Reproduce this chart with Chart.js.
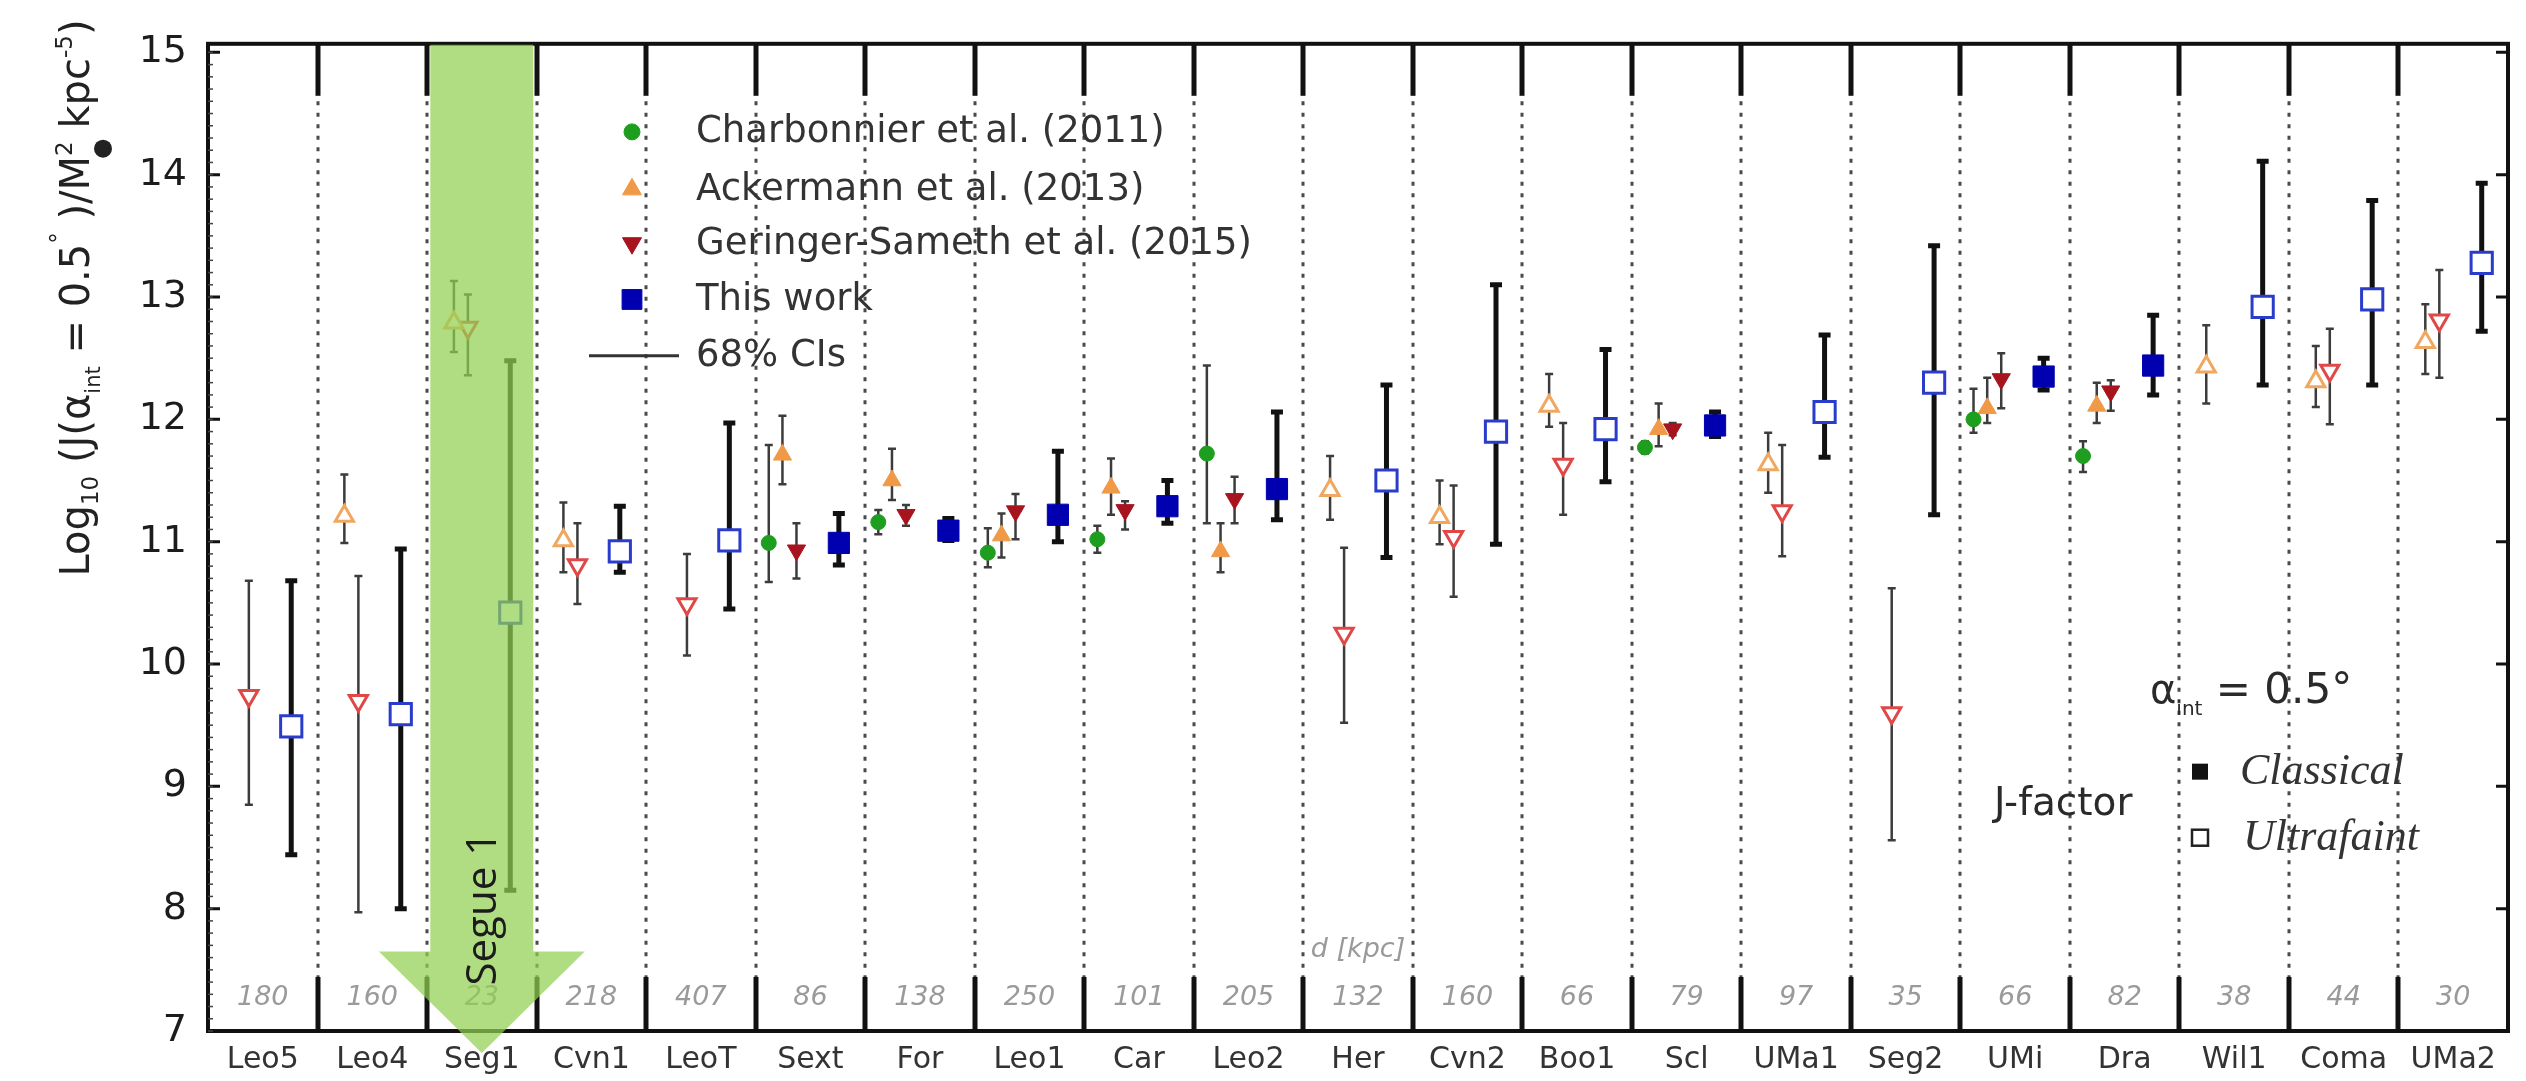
<!DOCTYPE html>
<html>
<head>
<meta charset="utf-8">
<script src="https://cdn.jsdelivr.net/npm/chart.js@4.4.1/dist/chart.umd.min.js"></script>
<style>
  html, body { margin: 0; padding: 0; background: #ffffff; }
  #wrap { width: 2526px; height: 1081px; position: relative; }
</style>
</head>
<body>
<div id="wrap"><canvas id="c"></canvas></div>
<script>
// ---------------- DATA ----------------
const categories = ['Leo5','Leo4','Seg1','Cvn1','LeoT','Sext','For','Leo1','Car','Leo2','Her','Cvn2','Boo1','Scl','UMa1','Seg2','UMi','Dra','Wil1','Coma','UMa2'];
const distances  = [180,160,23,218,407,86,138,250,101,205,132,160,66,79,97,35,66,82,38,44,30];
// 1 = classical (filled markers), 0 = ultrafaint (open markers)
const classical  = [0,0,0,0,0,1,1,1,1,1,0,0,0,1,0,0,1,1,0,0,0];
const yTicks = [7,8,9,10,11,12,13,14,15];

// Charbonnier et al. (2011)
const charbVal = [null,null,null,null,null,10.99,11.16,10.91,11.02,11.72,null,null,null,11.77,null,null,12.00,11.70,null,null,null];
const charbLo  = [null,null,null,null,null,10.67,11.06,10.79,10.91,11.15,null,null,null,11.72,null,null,11.89,11.57,null,null,null];
const charbHi  = [null,null,null,null,null,11.79,11.26,11.11,11.13,12.44,null,null,null,11.82,null,null,12.25,11.82,null,null,null];

// Ackermann et al. (2013)
const ackVal = [null,11.21,12.79,11.01,null,11.71,11.50,11.05,11.44,10.92,11.42,11.20,12.11,11.92,11.63,null,12.09,12.11,12.43,12.31,12.63];
const ackLo  = [null,10.99,12.55,10.75,null,11.47,11.34,10.87,11.22,10.75,11.18,10.98,11.94,11.78,11.40,null,11.97,11.97,12.13,12.10,12.37];
const ackHi  = [null,11.55,13.13,11.32,null,12.03,11.76,11.23,11.68,11.15,11.70,11.50,12.37,12.13,11.89,null,12.34,12.30,12.77,12.60,12.94];

// Geringer-Sameth et al. (2015)
const gsVal = [9.74,9.70,12.75,10.81,10.49,10.93,11.22,11.25,11.26,11.35,10.25,11.04,11.63,11.92,11.25,9.60,12.33,12.23,null,12.40,12.81];
const gsLo  = [8.85,7.97,12.36,10.49,10.07,10.70,11.13,11.02,11.10,11.15,9.52,10.55,11.22,11.87,10.88,8.56,12.09,12.07,null,11.96,12.34];
const gsHi  = [10.68,10.72,13.02,11.15,10.90,11.15,11.30,11.39,11.33,11.53,10.95,11.46,11.97,11.97,11.79,10.62,12.54,12.32,null,12.74,13.22];

// This work
const workVal = [9.49,9.59,10.42,10.92,11.01,10.99,11.09,11.22,11.29,11.43,11.50,11.90,11.92,11.95,12.06,12.30,12.35,12.44,12.92,12.98,13.28];
const workLo  = [8.44,8.00,8.15,10.75,10.45,10.81,11.01,11.00,11.15,11.18,10.87,10.98,11.49,11.86,11.69,11.22,12.24,12.20,12.28,12.28,12.72];
const workHi  = [10.68,10.94,12.48,11.29,11.97,11.23,11.19,11.74,11.50,12.06,12.28,13.10,12.57,12.06,12.69,13.42,12.50,12.85,14.11,13.79,13.93];

const highlightIndex = 2; // Segue 1

// ---------------- STYLES ----------------
const FONT = '"DejaVu Sans", "Liberation Sans", Arial, sans-serif';
const series = [
  { label:'Charbonnier et al. (2011)', val:charbVal, lo:charbLo, hi:charbHi, off:-0.38,
    style:'circle', rot:0, color:'#1e9e1e', hollow:'#1e9e1e', r:7.5, bar:'#3c3c3c', bw:2.5, cap:8 },
  { label:'Ackermann et al. (2013)', val:ackVal, lo:ackLo, hi:ackHi, off:-0.255,
    style:'triangle', rot:0, color:'#f09a48', hollow:'#f0a860', r:10.5, bar:'#3c3c3c', bw:2.5, cap:8 },
  { label:'Geringer-Sameth et al. (2015)', val:gsVal, lo:gsLo, hi:gsHi, off:-0.127,
    style:'triangle', rot:180, color:'#a8141e', hollow:'#e04848', r:10.5, bar:'#3c3c3c', bw:2.5, cap:8 },
  { label:'This work', val:workVal, lo:workLo, hi:workHi, off:0.26,
    style:'rect', rot:0, color:'#0000b0', hollow:'#2a3ccc', r:15, bar:'#111111', bw:5, cap:12 }
];

const datasets = series.map(s => {
  const idx = s.val.map((v,i)=> v==null ? -1 : i).filter(i => i >= 0);
  return {
    label: s.label,
    data: idx.map(i => ({ x: i + s.off, y: s.val[i] })),
    pointStyle: s.style,
    rotation: s.rot,
    pointRadius: s.r,
    pointBackgroundColor: idx.map(i => classical[i] ? s.color : '#ffffff'),
    pointBorderColor: idx.map(i => classical[i] ? s.color : s.hollow),
    pointBorderWidth: idx.map(i => classical[i] ? 1 : 3),
    showLine: false
  };
});

// ---------------- PLUGIN ----------------
function drawRich(ctx, pieces, x, y) {
  let cx = x;
  pieces.forEach(p => {
    ctx.font = (p.italic ? 'italic ' : '') + p.s + 'px ' + (p.f || FONT);
    const w = ctx.measureText(p.t).width;
    ctx.fillText(p.t, cx, y + (p.dy || 0));
    if (p.sun) {
      ctx.beginPath();
      ctx.arc(cx + w/2, y + p.sun, 9, 0, Math.PI*2);
      ctx.fill();
    }
    cx += w;
  });
  return cx - x;
}
function measureRich(ctx, pieces) {
  let w = 0;
  pieces.forEach(p => { ctx.font = (p.italic ? 'italic ' : '') + p.s + 'px ' + (p.f || FONT); w += ctx.measureText(p.t).width; });
  return w;
}
function marker(ctx, style, x, y, r, fill, stroke, lw, rot) {
  ctx.save();
  ctx.fillStyle = fill; ctx.strokeStyle = stroke; ctx.lineWidth = lw;
  ctx.beginPath();
  if (style === 'circle') { ctx.arc(x, y, r, 0, Math.PI*2); }
  else if (style === 'rect') { const h = r*Math.SQRT1_2; ctx.rect(x-h, y-h, 2*h, 2*h); }
  else if (style === 'triangle') {
    const s = rot ? -1 : 1;
    ctx.moveTo(x, y - s*r);
    ctx.lineTo(x - r*0.866, y + s*r*0.5);
    ctx.lineTo(x + r*0.866, y + s*r*0.5);
    ctx.closePath();
  }
  ctx.fill(); ctx.stroke();
  ctx.restore();
}

const decor = {
  id: 'decor',
  beforeDatasetsDraw(chart) {
    const {ctx, chartArea: a, scales: {x, y}} = chart;
    ctx.save();
    // category dividers (dotted)
    ctx.strokeStyle = '#4a4a4a'; ctx.lineWidth = 3; ctx.setLineDash([4, 7.5]);
    for (let i = 1; i < categories.length; i++) {
      const px = Math.round(x.getPixelForValue(i - 0.5));
      ctx.beginPath(); ctx.moveTo(px, a.top); ctx.lineTo(px, a.bottom); ctx.stroke();
    }
    ctx.setLineDash([]);
    // solid divider ticks at top and bottom
    ctx.strokeStyle = '#111'; ctx.lineWidth = 5;
    for (let i = 1; i < categories.length; i++) {
      const px = Math.round(x.getPixelForValue(i - 0.5));
      ctx.beginPath(); ctx.moveTo(px, a.top); ctx.lineTo(px, a.top + 52); ctx.stroke();
      ctx.beginPath(); ctx.moveTo(px, a.bottom - 54); ctx.lineTo(px, a.bottom); ctx.stroke();
    }
    // distances
    ctx.fillStyle = '#9a9a9a';
    ctx.font = 'italic 27px ' + FONT;
    ctx.textAlign = 'center'; ctx.textBaseline = 'middle';
    distances.forEach((d, i) => ctx.fillText(String(d), x.getPixelForValue(i), y.getPixelForValue(7.27)));
    ctx.fillText('d [kpc]', x.getPixelForValue(10), y.getPixelForValue(7.66));
    // error bars
    series.forEach(s => {
      ctx.strokeStyle = s.bar; ctx.lineWidth = s.bw; ctx.lineCap = 'butt';
      s.val.forEach((v, i) => {
        if (v == null) return;
        const px = x.getPixelForValue(i + s.off);
        const y1 = y.getPixelForValue(s.lo[i]), y2 = y.getPixelForValue(s.hi[i]);
        ctx.beginPath(); ctx.moveTo(px, y1); ctx.lineTo(px, y2);
        ctx.moveTo(px - s.cap/2, y1); ctx.lineTo(px + s.cap/2, y1);
        ctx.moveTo(px - s.cap/2, y2); ctx.lineTo(px + s.cap/2, y2);
        ctx.stroke();
      });
    });
    ctx.restore();
  },
  afterDatasetsDraw(chart) {
    const {ctx, chartArea: a, scales: {x, y}} = chart;
    ctx.save();
    // frame
    ctx.strokeStyle = '#111'; ctx.lineWidth = 4;
    ctx.strokeRect(a.left, a.top, a.right - a.left, a.bottom - a.top);
    // y ticks inward (both sides)
    ctx.lineWidth = 3;
    yTicks.forEach(t => {
      const py = y.getPixelForValue(t);
      ctx.beginPath(); ctx.moveTo(a.left, py); ctx.lineTo(a.left + 12, py);
      ctx.moveTo(a.right, py); ctx.lineTo(a.right - 12, py); ctx.stroke();
    });
    ctx.lineWidth = 1.5; ctx.strokeStyle = '#444';
    for (let k = 0; k <= 80; k++) {
      const py = y.getPixelForValue(7 + k*0.1);
      ctx.beginPath(); ctx.moveTo(a.left, py); ctx.lineTo(a.left + 5, py); ctx.stroke();
    }
    // legend
    const lx = 632, tx = 696;
    const ly = [y.getPixelForValue(14.35), y.getPixelForValue(13.88), y.getPixelForValue(13.44), y.getPixelForValue(12.98)];
    series.forEach((s, k) => {
      marker(ctx, s.style, lx, ly[k], s.style === 'rect' ? 14 : (s.style === 'circle' ? 8 : 11), s.color, s.color, 1, s.rot);
    });
    ctx.fillStyle = '#333'; ctx.font = '37px ' + FONT;
    ctx.textAlign = 'left'; ctx.textBaseline = 'middle';
    series.forEach((s, k) => ctx.fillText(s.label, tx, ly[k] + 1));
    const ciY = y.getPixelForValue(12.52);
    ctx.strokeStyle = '#333'; ctx.lineWidth = 3;
    ctx.beginPath(); ctx.moveTo(589, ciY); ctx.lineTo(679, ciY); ctx.stroke();
    ctx.fillText('68% CIs', tx, ciY + 1);

    // annotation bottom-right
    ctx.fillStyle = '#2a2a2a'; ctx.textBaseline = 'alphabetic';
    drawRich(ctx, [
      {t:'α', s:40}, {t:'int', s:20, dy:12}, {t:' = 0.5°', s:42}
    ], 2150, y.getPixelForValue(9.68));
    ctx.font = '39px ' + FONT; ctx.textBaseline = 'middle';
    ctx.fillText('J-factor', 1994, y.getPixelForValue(8.85));
    const cY = y.getPixelForValue(9.12), uY = y.getPixelForValue(8.58);
    ctx.fillStyle = '#111'; ctx.fillRect(2192, cY - 8, 16, 16);
    ctx.strokeStyle = '#222'; ctx.lineWidth = 2.5; ctx.strokeRect(2192, uY - 8, 16, 16);
    ctx.fillStyle = '#333';
    ctx.font = 'italic 44px "Liberation Serif", "Times New Roman", serif';
    ctx.fillText('Classical', 2240, cY + 1);
    ctx.fillText('Ultrafaint', 2243, uY + 1);

    // y axis title (rotated)
    ctx.fillStyle = '#222';
    ctx.translate(89, 298);
    ctx.rotate(-Math.PI/2);
    const pieces = [
      {t:'Log', s:40}, {t:'10', s:23, dy:9}, {t:' (J(α', s:40}, {t:'int', s:21, dy:11},
      {t:' = 0.5', s:40}, {t:'°', s:23, dy:-23}, {t:' )/M', s:40}, {t:'2', s:23, dy:-17, sun:14},
      {t:' kpc', s:40}, {t:'-5', s:23, dy:-17}, {t:')', s:40}
    ];
    ctx.textAlign = 'left'; ctx.textBaseline = 'alphabetic';
    const W = measureRich(ctx, pieces);
    drawRich(ctx, pieces, -W/2, 0);
    ctx.restore();
  },
  afterDraw(chart) {
    const {ctx, chartArea: a, scales: {x, y}} = chart;
    ctx.save();
    // Segue 1 highlight column + arrow
    const xl = x.getPixelForValue(highlightIndex - 0.47), xr = x.getPixelForValue(highlightIndex + 0.47);
    const xc = x.getPixelForValue(highlightIndex);
    const yb = y.getPixelForValue(7.65), yApex = y.getPixelForValue(6.82);
    const tl = x.getPixelForValue(highlightIndex - 0.94), tr = x.getPixelForValue(highlightIndex + 0.94);
    ctx.fillStyle = 'rgba(146,208,80,0.72)';
    ctx.beginPath();
    ctx.moveTo(xl, a.top + 1); ctx.lineTo(xr, a.top + 1); ctx.lineTo(xr, yb);
    ctx.lineTo(tr, yb); ctx.lineTo(xc, yApex); ctx.lineTo(tl, yb); ctx.lineTo(xl, yb);
    ctx.closePath(); ctx.fill();
    ctx.fillStyle = '#1c1c1c';
    ctx.translate(xc + 2, y.getPixelForValue(8.0));
    ctx.rotate(-Math.PI/2);
    ctx.font = '42px "Open Sans", "Noto Sans", sans-serif';
    ctx.textAlign = 'center'; ctx.textBaseline = 'middle';
    ctx.fillText('Segue 1', 0, 0);
    ctx.restore();
  }
};

new Chart(document.getElementById('c'), {
  type: 'scatter',
  data: { datasets },
  options: {
    responsive: true,
    maintainAspectRatio: false,
    devicePixelRatio: 1,
    animation: false,
    events: [],
    layout: { padding: { top: 13, right: 10, left: 0, bottom: 0 } },
    plugins: { legend: { display: false }, tooltip: { enabled: false } },
    scales: {
      x: {
        type: 'linear', min: -0.5, max: categories.length - 0.5,
        grid: { display: false, drawTicks: false }, border: { display: false },
        afterBuildTicks: s => { s.ticks = categories.map((c, i) => ({ value: i })); },
        afterFit: s => { s.height = 50; },
        ticks: { callback: v => categories[v] ?? '', autoSkip: false, maxRotation: 0,
                 font: { family: FONT, size: 30 }, color: '#333', padding: 11 }
      },
      y: {
        min: 7, max: 15.07,
        grid: { display: false, drawTicks: false }, border: { display: false },
        afterBuildTicks: s => { s.ticks = yTicks.map(v => ({ value: v })); },
        afterFit: s => { s.width = 208; },
        ticks: { font: { family: FONT, size: 38 }, color: '#1c1c1c', padding: 21 }
      }
    }
  },
  plugins: [decor]
});
</script>
</body>
</html>
